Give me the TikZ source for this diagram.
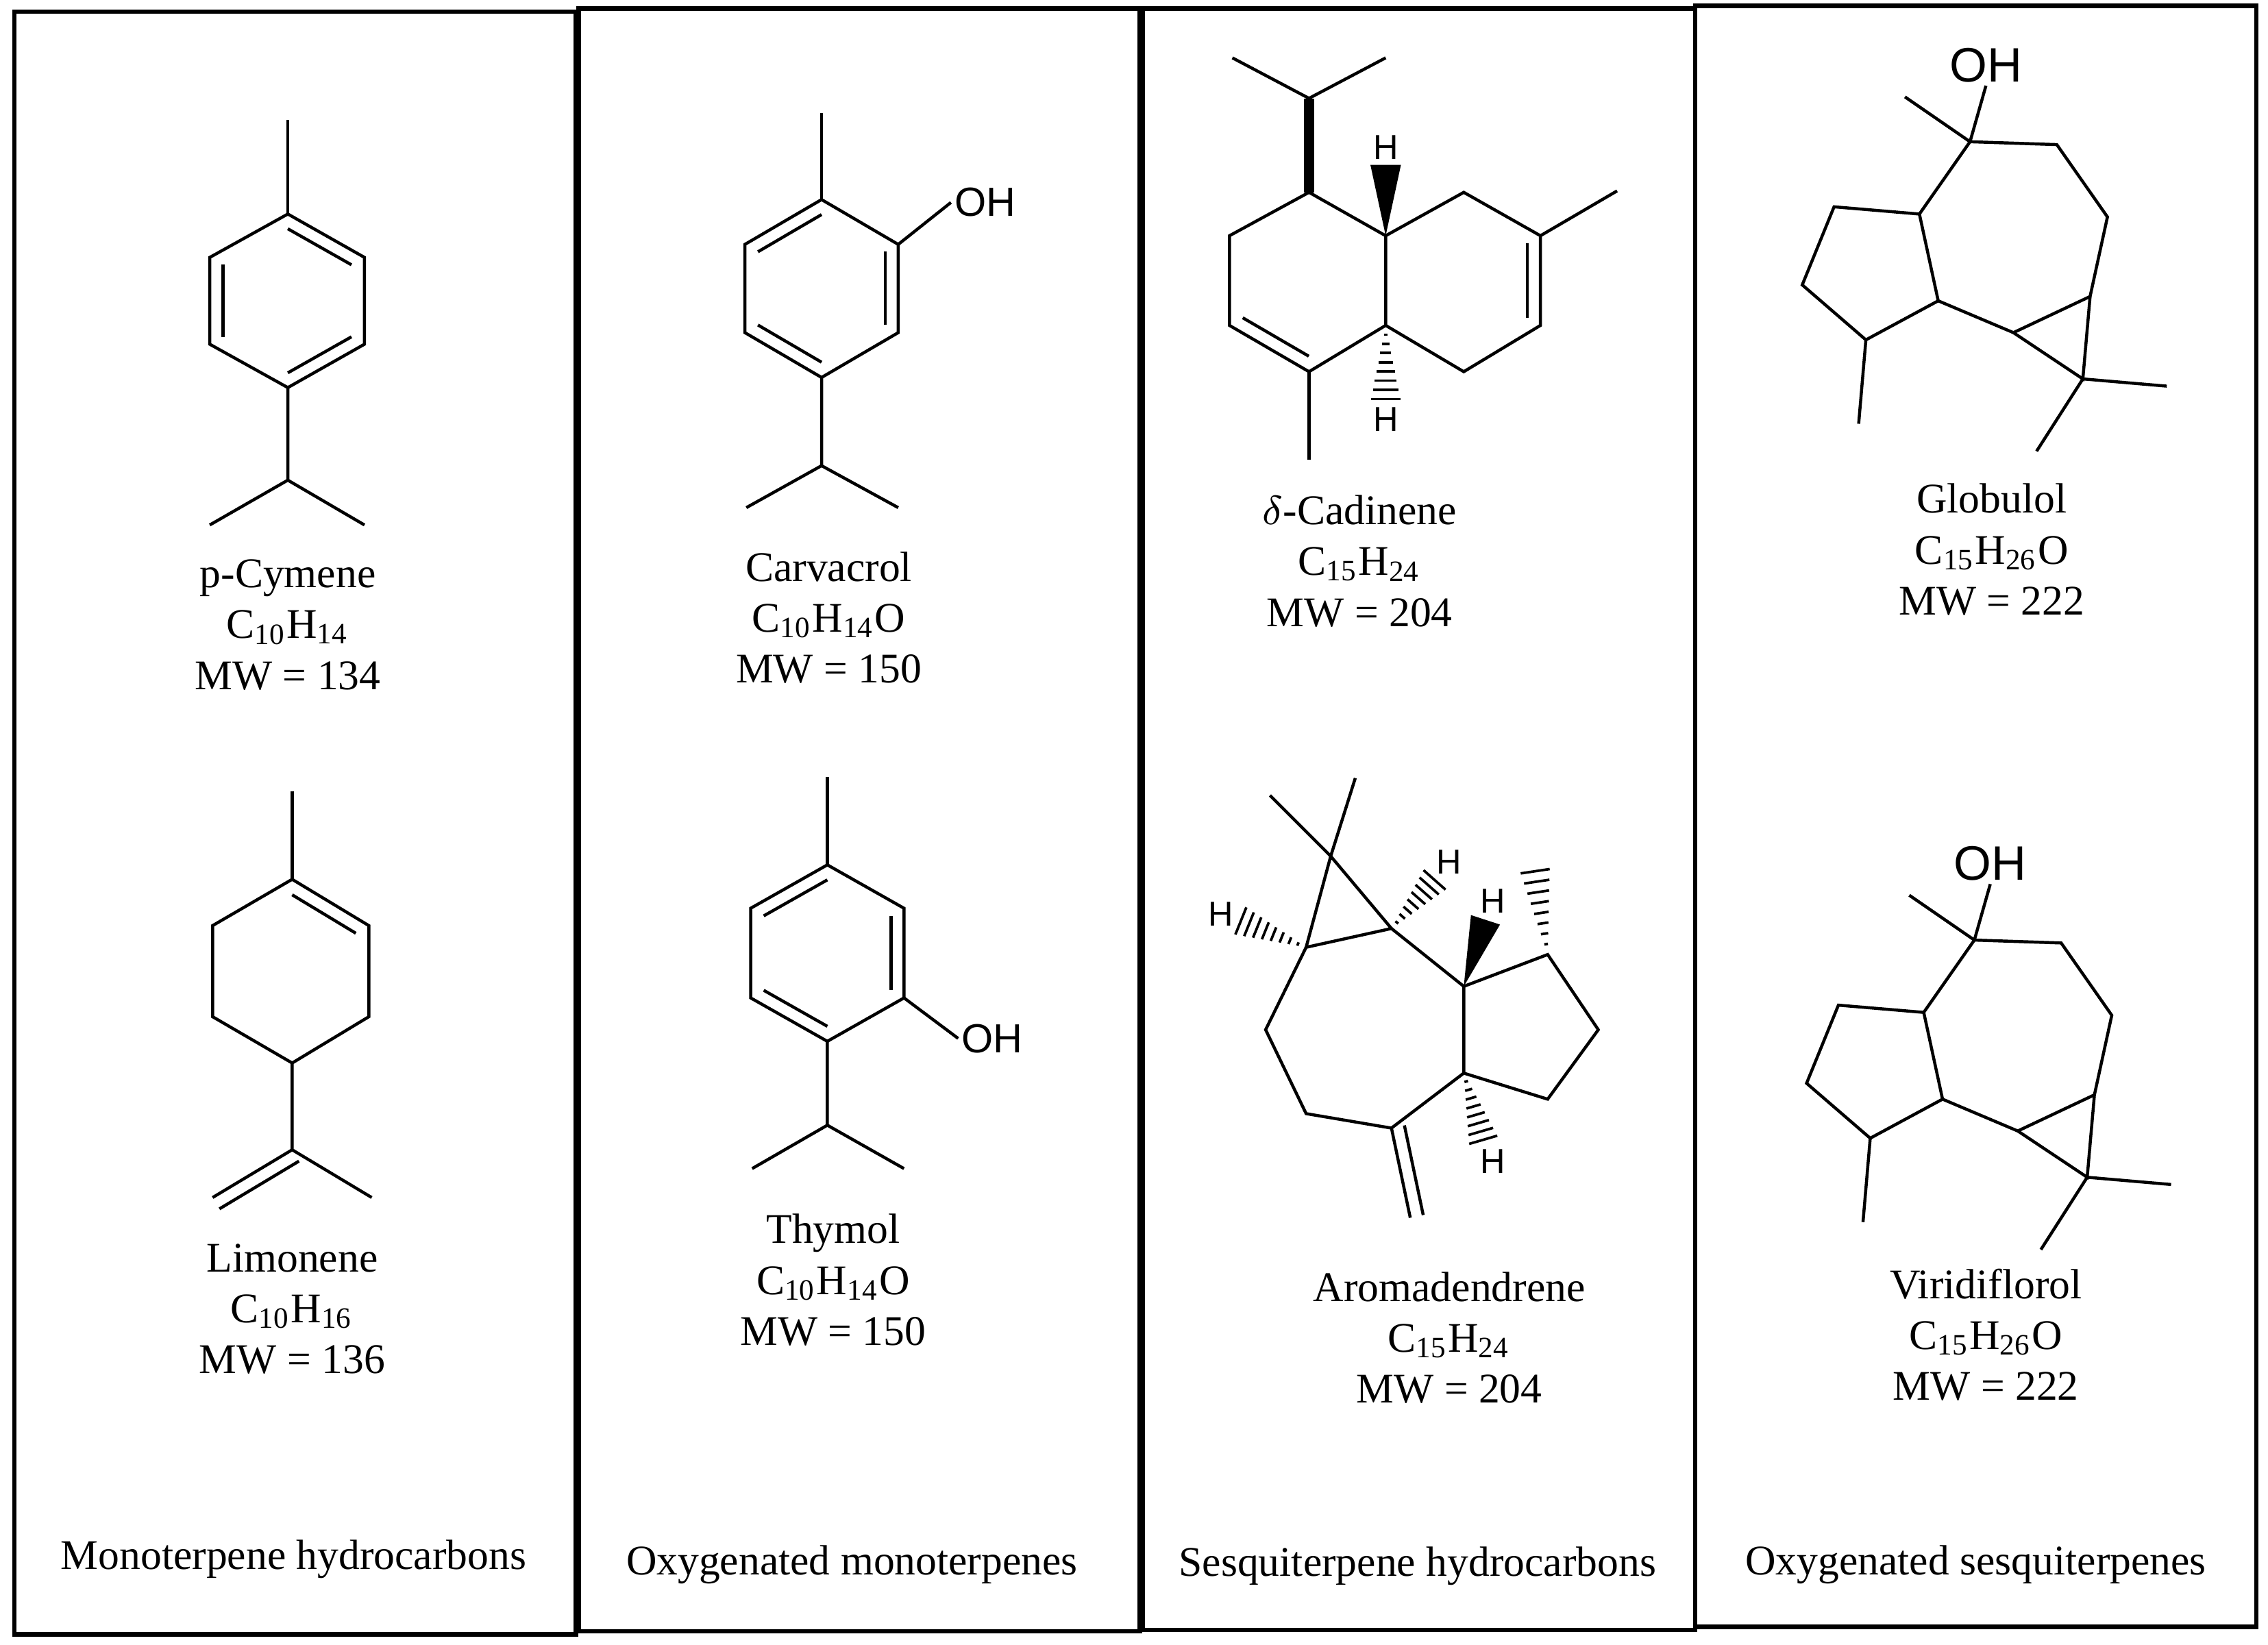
\documentclass[tikz,border=0pt]{standalone}
\usepackage{fontspec}
\setmainfont{Liberation Serif}
\newfontfamily\atomfont{Liberation Sans}
\usetikzlibrary{calc}
\tikzset{
  panel/.style = {draw, line width=0.9pt},
  bond/.style = {line width=0.6pt},
  caption/.style = {font=\fontsize{8.3}{10}\selectfont, align=center, inner sep=0pt},
  atom/.style = {font=\atomfont\fontsize{6.8}{8}\selectfont, inner sep=0.5pt},
  oh/.style = {font=\atomfont\fontsize{8}{9}\selectfont, inner sep=0.5pt}
}
% inner line of a ring double bond
\newcommand\ringdbl[3]{\draw[bond] ($#1!0.17!#3$) -- ($#2!0.17!#3$);}
% second line of a chain double bond
\newcommand\sidedbl[2]{\draw[bond] ($#1!2.6pt!90:#2$) -- ($#2!2.6pt!-90:#1$);}
% stereo bonds
\newcommand\wedgebond[2]{\fill ($#1$) -- ($#2!3pt!90:#1$) -- ($#2!3pt!-90:#1$) -- cycle;}
\newcommand\hashbond[2]{%
  \foreach \t in {0.12,0.24,...,1.0}{%
    \path #1 -- #2 coordinate[pos=\t] (hp);
    \draw[line width=0.5pt] ($(hp)!{\t*3pt}!90:#2$) -- ($(hp)!{\t*3pt}!-90:#2$);}}
\begin{document}
\begin{tikzpicture}[x=0.01cm, y=-0.01cm]
\useasboundingbox (0,0) rectangle (1568,1137);
% panels
\draw[panel] (10,8) rectangle (398,1130);
\draw[panel] (400,6) rectangle (788,1128);
\draw[panel] (790,6) rectangle (1172,1127);
\draw[panel] (1172,4) rectangle (1560,1125);

% p-Cymene
\draw[bond] (199,83) -- (199,148);
\draw[bond] (199,148) -- (252,178) -- (252,238) -- (199,268) -- (145,238) -- (145,178) -- cycle;
\ringdbl{(199,148)}{(252,178)}{(199,208)}
\ringdbl{(252,238)}{(199,268)}{(199,208)}
\ringdbl{(145,238)}{(145,178)}{(199,208)}
\draw[bond] (199,268) -- (199,332) -- (145,363) (199,332) -- (252,363);
\node[caption] (cym) at (199,432) {p-Cymene\\C\textsubscript{10}H\textsubscript{14}\\MW = 134};

% Limonene
\draw[bond] (202,547) -- (202,608);
\draw[bond] (202,608) -- (255,640) -- (255,703) -- (202,735) -- (147,703) -- (147,640) -- cycle;
\ringdbl{(202,608)}{(255,640)}{(202,671)}
\draw[bond] (202,735) -- (202,795) -- (257,828) (202,795) -- (147,828);
\sidedbl{(202,795)}{(147,828)}
\node[caption] (lim) at (202,905) {Limonene\\C\textsubscript{10}H\textsubscript{16}\\MW = 136};
\node[caption] (mono) at (203,1078) {Monoterpene hydrocarbons};

% Carvacrol
\draw[bond] (568,78) -- (568,138);
\draw[bond] (568,138) -- (621,169) -- (621,230) -- (568,261) -- (515,230) -- (515,169) -- cycle;
\ringdbl{(515,169)}{(568,138)}{(568,199)}
\ringdbl{(621,169)}{(621,230)}{(568,199)}
\ringdbl{(568,261)}{(515,230)}{(568,199)}
\node[oh] (ohc) at (681,140) {OH};
\draw[bond] (621,169) -- (ohc.west);
\draw[bond] (568,261) -- (568,322) -- (516,351) (568,322) -- (621,351);
\node[caption] (car) at (573,427) {Carvacrol\\C\textsubscript{10}H\textsubscript{14}O\\MW = 150};

% Thymol
\draw[bond] (572,537) -- (572,598);
\draw[bond] (572,598) -- (625,628) -- (625,690) -- (572,720) -- (519,690) -- (519,628) -- cycle;
\ringdbl{(519,628)}{(572,598)}{(572,659)}
\ringdbl{(625,628)}{(625,690)}{(572,659)}
\ringdbl{(572,720)}{(519,690)}{(572,659)}
\node[oh] (oht) at (686,718) {OH};
\draw[bond] (625,690) -- (oht.west);
\draw[bond] (572,720) -- (572,778) -- (520,808) (572,778) -- (625,808);
\node[caption] (thy) at (576,885) {Thymol\\C\textsubscript{10}H\textsubscript{14}O\\MW = 150};
\node[caption] (oxm) at (589,1082) {Oxygenated monoterpenes};

% delta-Cadinene
\draw[bond] (852,40) -- (905,68) -- (958,40);
\draw[line width=2pt] (905,68) -- (905,133);
\draw[bond] (905,133) -- (958,163) -- (958,225) -- (905,257) -- (850,225) -- (850,163) -- cycle;
\ringdbl{(905,257)}{(850,225)}{(904,194)}
\draw[bond] (905,257) -- (905,318);
\draw[bond] (958,163) -- (1012,133) -- (1065,163) -- (1065,225) -- (1012,257) -- (958,225);
\ringdbl{(1065,163)}{(1065,225)}{(1011,194)}
\draw[bond] (1065,163) -- (1118,132);
\node[atom] (hc1) at (958,102) {H};
\node[atom] (hc2) at (958,290) {H};
\wedgebond{(958,163)}{(958,114)}
\hashbond{(958,225)}{(958,278)}
\node[caption] (cad) at (940,388) {$\delta$-Cadinene\\C\textsubscript{15}H\textsubscript{24}\\MW = 204};

% Aromadendrene
\draw[bond] (878,550) -- (920,592) -- (937,538);
\draw[bond] (920,592) -- (903,655) -- (962,642) -- cycle;
\draw[bond] (903,655) -- (875,712) -- (903,770) -- (962,780) -- (1012,742) -- (1012,682) -- (962,642);
\draw[bond] (962,780) -- (975,842);
\sidedbl{(962,780)}{(975,842)}
\draw[bond] (1012,682) -- (1070,660) -- (1105,712) -- (1070,760) -- (1012,742);
\node[atom] (ha1) at (844,632) {H};
\node[atom] (ha2) at (1002,596) {H};
\node[atom] (ha3) at (1032,623) {H};
\node[atom] (ha4) at (1032,803) {H};
\hashbond{(903,655)}{(856,636)}
\hashbond{(962,642)}{(993,607)}
\hashbond{(1070,660)}{(1061,600)}
\wedgebond{(1012,682)}{(1027,636)}
\hashbond{(1012,742)}{(1026,790)}
\node[caption] (aro) at (1002,925) {Aromadendrene\\C\textsubscript{15}H\textsubscript{24}\\MW = 204};
\node[caption] (ses) at (980,1083) {Sesquiterpene hydrocarbons};

% Globulol and Viridiflorol
\foreach \dx/\dy/\nm in {0/0/Globulol, 3/552/Viridiflorol}{
  \begin{scope}[shift={(\dx,\dy)}]
    \node[oh, font=\atomfont\fontsize{9.5}{11}\selectfont] (oh\nm) at (1373,45) {OH};
    \draw[bond] (1362,98) -- (oh\nm.south) (1362,98) -- (1317,67);
    \draw[bond] (1362,98) -- (1422,100) -- (1457,150) -- (1445,205) -- (1392,230) -- (1340,208) -- (1327,148) -- cycle;
    \draw[bond] (1445,205) -- (1440,262) -- (1392,230);
    \draw[bond] (1498,267) -- (1440,262) -- (1408,312);
    \draw[bond] (1327,148) -- (1268,143) -- (1246,197) -- (1290,235) -- (1340,208);
    \draw[bond] (1290,235) -- (1285,293);
  \end{scope}
}
\node[caption] (glo) at (1377,380) {Globulol\\C\textsubscript{15}H\textsubscript{26}O\\MW = 222};
\node[caption] (vir) at (1373,923) {Viridiflorol\\C\textsubscript{15}H\textsubscript{26}O\\MW = 222};
\node[caption] (oxs) at (1366,1082) {Oxygenated sesquiterpenes};
\end{tikzpicture}
\end{document}
